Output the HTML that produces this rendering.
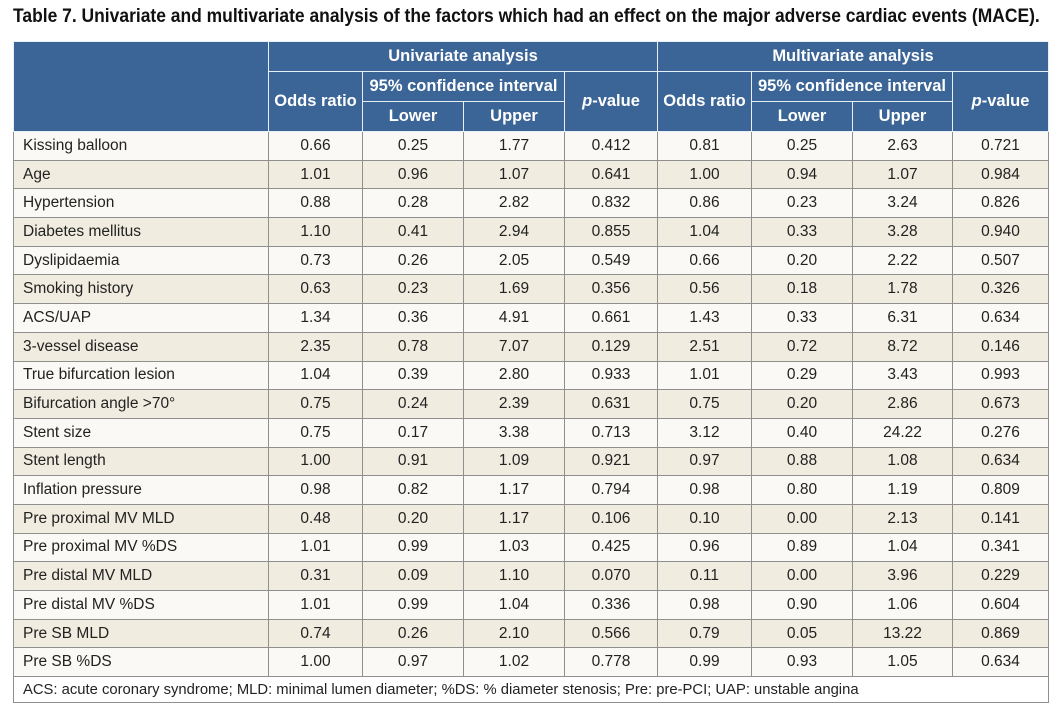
<!DOCTYPE html>
<html><head><meta charset="utf-8"><style>
body{margin:0;background:#fff;width:1064px;height:716px;overflow:hidden;position:relative;font-family:"Liberation Sans",sans-serif}
.title{position:absolute;left:13px;top:5px;font-weight:bold;font-size:19.5px;color:#111;white-space:nowrap;transform:scaleX(0.895);transform-origin:0 0}
table{position:absolute;left:13px;top:41px;border-collapse:collapse;table-layout:fixed;width:1035px}
td,th{padding:0;font-size:15.5px;color:#222;white-space:nowrap;overflow:hidden}
th{background:#3b6596;color:#fff;font-weight:bold;font-size:16.5px;border:1px solid #e8eef5}
tr.h{height:30px}
th i{font-style:italic}
td{border:1px solid #8f8f8f;text-align:center}
tr.o,tr.e{height:28.7px}
td.l{text-align:left;padding-left:9px}
tr.o td{background:#faf9f5}
tr.e td{background:#f0ecdf}
td.f{background:#fff;text-align:left;padding-left:9px;font-size:14.8px}
</style></head><body>
<div class="title">Table 7. Univariate and multivariate analysis of the factors which had an effect on the major adverse cardiac events (MACE).</div>
<table>
<colgroup><col style="width:255px"><col style="width:94px"><col style="width:101px"><col style="width:101px"><col style="width:93px"><col style="width:94px"><col style="width:101px"><col style="width:100px"><col style="width:96px"></colgroup>
<tr class="h"><th rowspan="3"></th><th colspan="4">Univariate analysis</th><th colspan="4">Multivariate analysis</th></tr>
<tr class="h"><th rowspan="2">Odds ratio</th><th colspan="2">95% confidence interval</th><th rowspan="2"><i>p</i>-value</th><th rowspan="2">Odds ratio</th><th colspan="2">95% confidence interval</th><th rowspan="2"><i>p</i>-value</th></tr>
<tr class="h"><th>Lower</th><th>Upper</th><th>Lower</th><th>Upper</th></tr>
<tr class="o"><td class="l">Kissing balloon</td><td>0.66</td><td>0.25</td><td>1.77</td><td>0.412</td><td>0.81</td><td>0.25</td><td>2.63</td><td>0.721</td></tr>
<tr class="e"><td class="l">Age</td><td>1.01</td><td>0.96</td><td>1.07</td><td>0.641</td><td>1.00</td><td>0.94</td><td>1.07</td><td>0.984</td></tr>
<tr class="o"><td class="l">Hypertension</td><td>0.88</td><td>0.28</td><td>2.82</td><td>0.832</td><td>0.86</td><td>0.23</td><td>3.24</td><td>0.826</td></tr>
<tr class="e"><td class="l">Diabetes mellitus</td><td>1.10</td><td>0.41</td><td>2.94</td><td>0.855</td><td>1.04</td><td>0.33</td><td>3.28</td><td>0.940</td></tr>
<tr class="o"><td class="l">Dyslipidaemia</td><td>0.73</td><td>0.26</td><td>2.05</td><td>0.549</td><td>0.66</td><td>0.20</td><td>2.22</td><td>0.507</td></tr>
<tr class="e"><td class="l">Smoking history</td><td>0.63</td><td>0.23</td><td>1.69</td><td>0.356</td><td>0.56</td><td>0.18</td><td>1.78</td><td>0.326</td></tr>
<tr class="o"><td class="l">ACS/UAP</td><td>1.34</td><td>0.36</td><td>4.91</td><td>0.661</td><td>1.43</td><td>0.33</td><td>6.31</td><td>0.634</td></tr>
<tr class="e"><td class="l">3-vessel disease</td><td>2.35</td><td>0.78</td><td>7.07</td><td>0.129</td><td>2.51</td><td>0.72</td><td>8.72</td><td>0.146</td></tr>
<tr class="o"><td class="l">True bifurcation lesion</td><td>1.04</td><td>0.39</td><td>2.80</td><td>0.933</td><td>1.01</td><td>0.29</td><td>3.43</td><td>0.993</td></tr>
<tr class="e"><td class="l">Bifurcation angle &gt;70°</td><td>0.75</td><td>0.24</td><td>2.39</td><td>0.631</td><td>0.75</td><td>0.20</td><td>2.86</td><td>0.673</td></tr>
<tr class="o"><td class="l">Stent size</td><td>0.75</td><td>0.17</td><td>3.38</td><td>0.713</td><td>3.12</td><td>0.40</td><td>24.22</td><td>0.276</td></tr>
<tr class="e"><td class="l">Stent length</td><td>1.00</td><td>0.91</td><td>1.09</td><td>0.921</td><td>0.97</td><td>0.88</td><td>1.08</td><td>0.634</td></tr>
<tr class="o"><td class="l">Inflation pressure</td><td>0.98</td><td>0.82</td><td>1.17</td><td>0.794</td><td>0.98</td><td>0.80</td><td>1.19</td><td>0.809</td></tr>
<tr class="e"><td class="l">Pre proximal MV MLD</td><td>0.48</td><td>0.20</td><td>1.17</td><td>0.106</td><td>0.10</td><td>0.00</td><td>2.13</td><td>0.141</td></tr>
<tr class="o"><td class="l">Pre proximal MV %DS</td><td>1.01</td><td>0.99</td><td>1.03</td><td>0.425</td><td>0.96</td><td>0.89</td><td>1.04</td><td>0.341</td></tr>
<tr class="e"><td class="l">Pre distal MV MLD</td><td>0.31</td><td>0.09</td><td>1.10</td><td>0.070</td><td>0.11</td><td>0.00</td><td>3.96</td><td>0.229</td></tr>
<tr class="o"><td class="l">Pre distal MV %DS</td><td>1.01</td><td>0.99</td><td>1.04</td><td>0.336</td><td>0.98</td><td>0.90</td><td>1.06</td><td>0.604</td></tr>
<tr class="e"><td class="l">Pre SB MLD</td><td>0.74</td><td>0.26</td><td>2.10</td><td>0.566</td><td>0.79</td><td>0.05</td><td>13.22</td><td>0.869</td></tr>
<tr class="o"><td class="l">Pre SB %DS</td><td>1.00</td><td>0.97</td><td>1.02</td><td>0.778</td><td>0.99</td><td>0.93</td><td>1.05</td><td>0.634</td></tr>
<tr style="height:26px"><td class="f" colspan="9">ACS: acute coronary syndrome; MLD: minimal lumen diameter; %DS: % diameter stenosis; Pre: pre-PCI; UAP: unstable angina</td></tr>
</table>
</body></html>
